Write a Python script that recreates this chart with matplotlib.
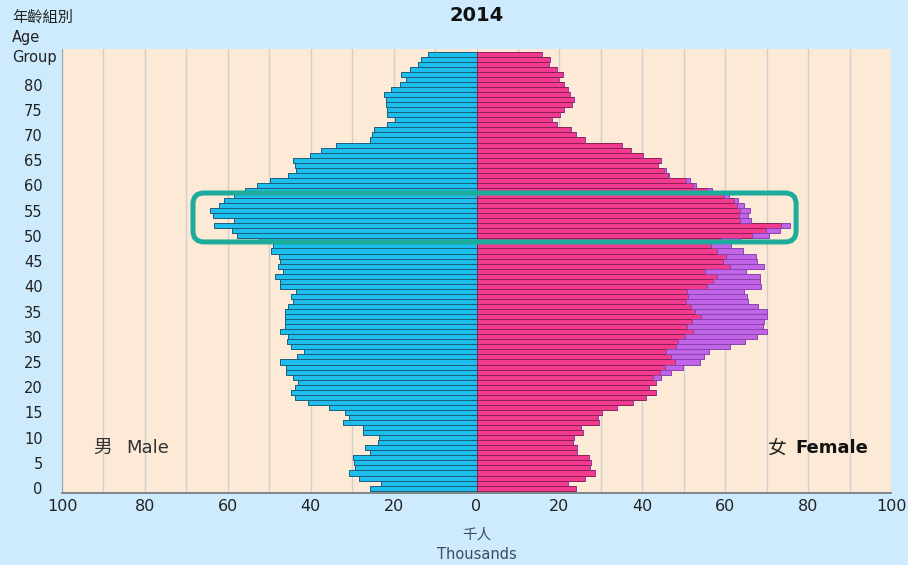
import numpy as np
import matplotlib
matplotlib.use("Agg")
import matplotlib.pyplot as plt
from matplotlib.patches import FancyBboxPatch
from matplotlib.transforms import IdentityTransform

plt.rcParams['font.family'] = ['DejaVu Sans', 'Noto Sans CJK TC']

# single years of age 0..86, thousands of persons
ages = np.arange(0, 87)
male = [25.8, 23.1, 28.3, 30.8, 29.3, 29.5, 29.7, 25.7, 26.8, 23.7,
        23.6, 27.3, 27.3, 32.3, 30.7, 31.8, 35.7, 40.7, 43.8, 44.7,
        43.8, 43.0, 44.2, 45.9, 45.9, 47.4, 43.3, 41.7, 44.8, 45.8,
        45.6, 47.3, 46.2, 46.2, 46.2, 46.1, 45.4, 44.2, 44.7, 43.6,
        47.4, 47.4, 48.6, 46.6, 47.8, 47.5, 47.6, 49.6, 49.2, 52.5,
        57.9, 59.1, 63.4, 58.6, 63.6, 64.4, 62.2, 61.0, 58.6, 55.9,
        53.0, 49.8, 45.4, 43.6, 43.8, 44.3, 40.2, 37.5, 34.0, 25.6,
        25.1, 24.7, 21.6, 19.6, 21.6, 21.7, 21.8, 21.8, 22.2, 20.7,
        18.4, 16.9, 18.1, 16.1, 14.0, 13.4, 11.7]
female = [24.0, 22.0, 26.2, 28.6, 27.4, 27.6, 27.2, 24.2, 24.3, 23.2,
          23.6, 25.7, 25.3, 29.6, 29.3, 30.3, 34.0, 37.7, 41.0, 43.2,
          41.6, 43.2, 42.5, 44.2, 45.4, 48.0, 46.8, 45.6, 48.1, 48.6,
          50.4, 52.2, 50.9, 52.0, 54.2, 52.8, 51.7, 50.5, 51.0, 50.9,
          55.7, 57.1, 57.9, 55.2, 61.1, 59.5, 60.2, 58.0, 56.6, 59.0,
          66.5, 69.9, 73.4, 63.5, 63.3, 63.5, 62.8, 62.0, 59.8, 55.7,
          52.2, 50.5, 46.2, 45.2, 43.8, 44.4, 40.2, 37.2, 35.0, 26.2,
          24.0, 22.7, 19.3, 18.3, 20.2, 21.0, 23.0, 23.4, 22.6, 22.0,
          21.2, 20.0, 20.8, 19.4, 17.4, 17.8, 15.7]
# foreign domestic helpers (purple part on the female side)
female_fdh = [0, 0, 0, 0, 0, 0, 0, 0, 0, 0,
              0, 0, 0, 0, 0, 0, 0, 0, 0, 0,
              0, 0.2, 2.1, 2.8, 4.4, 5.9, 8.2, 10.6, 13.0, 16.1,
              17.2, 17.8, 18.3, 17.3, 15.8, 17.4, 16.3, 15.1, 14.3, 13.6,
              12.9, 11.3, 10.4, 9.8, 8.2, 8.2, 7.3, 6.4, 4.8, 4.5,
              4.0, 3.4, 2.2, 2.7, 2.2, 2.4, 1.7, 1.2, 1.0, 1.0,
              0.8, 0.9, 0.3, 0.6, 0, 0, 0, 0, 0, 0,
              0, 0, 0, 0, 0, 0, 0, 0, 0, 0,
              0, 0, 0, 0, 0, 0, 0]
xticks = [-100, -80, -60, -40, -20, 0, 20, 40, 60, 80, 100]
xtick_labels = ['100', '80', '60', '40', '20', '0', '20', '40', '60', '80', '100']
yticks = list(range(0, 81, 5))
highlight_x = (-68.4, 77.1)
highlight_age = (48.8, 58.5)

fig = plt.figure(figsize=(9.08, 5.65), dpi=100, facecolor='#cdebfd')
ax = fig.add_axes([0.0683, 0.1274, 0.913, 0.7864])
ax.set_facecolor('#fdead6')

ax.barh(ages, -np.array(male), height=1.0, color='#1bbeec',
        edgecolor='#1c5d78', linewidth=0.7, zorder=3)
ax.barh(ages, female, height=1.0, color='#f23a8e',
        edgecolor='#8c1f55', linewidth=0.7, zorder=3)
ax.barh(ages, female_fdh, left=female, height=1.0, color='#c264e8',
        edgecolor='#8a44ad', linewidth=0.7, zorder=3)

ax.set_xlim(-100, 100)
ax.set_ylim(-0.97, 87.1)
ax.set_xticks(xticks)
ax.set_xticklabels(xtick_labels, fontsize=11.5, color='#222222')
ax.set_xticks(range(-90, 100, 10), minor=True)
ax.set_yticks(yticks)
ax.set_yticklabels([str(v) for v in yticks], fontsize=10.5, color='#222222')
ax.tick_params(axis='y', length=0, pad=14)
ax.tick_params(axis='x', which='both', length=0, pad=4)
ax.grid(axis='x', which='both', color='#cfcfcf', linewidth=1.0, zorder=0)
ax.set_axisbelow(True)
for s in ['top', 'right']:
    ax.spines[s].set_visible(False)
ax.spines['left'].set_color('#9aa5ad')
ax.spines['bottom'].set_color('#6a7680')
ax.spines['bottom'].set_linewidth(1.2)

# rounded highlight box around the 50-57 cohort
fig.canvas.draw()
(x0, y0) = ax.transData.transform((highlight_x[0], highlight_age[0]))
(x1, y1) = ax.transData.transform((highlight_x[1], highlight_age[1]))
box = FancyBboxPatch((x0, y0), x1 - x0, y1 - y0,
                     boxstyle='round,pad=0,rounding_size=11',
                     transform=IdentityTransform(), fill=False,
                     edgecolor='#1dab9b', linewidth=3.6, zorder=10)
fig.add_artist(box)

fig.text(0.5253, 0.972, '2014', ha='center', va='center',
         fontsize=14, fontweight='bold', color='#111111')
fig.text(0.013, 0.970, '年齡組別', ha='left', va='center', fontsize=11,
         color='#222222', family=['Noto Sans CJK TC', 'DejaVu Sans'])
fig.text(0.013, 0.934, 'Age', ha='left', va='center', fontsize=10.5, color='#222222')
fig.text(0.013, 0.899, 'Group', ha='left', va='center', fontsize=10.5, color='#222222')

ax.text(-92.5, 8.0, '男', ha='left', va='center', fontsize=13.5,
        color='#333333', family=['Noto Sans CJK TC', 'DejaVu Sans'])
ax.text(-84.5, 8.0, 'Male', ha='left', va='center', fontsize=13,
        color='#333333')
ax.text(94.5, 8.0, 'Female', ha='right', va='center', fontsize=13,
        fontweight='bold', color='#111111')
ax.text(70.2, 8.0, '女', ha='left', va='center', fontsize=13.5,
        color='#222222', family=['Noto Sans CJK TC', 'DejaVu Sans'])

fig.text(0.5253, 0.053, '千人', ha='center', va='center', fontsize=10.5,
         color='#3c4a66', family=['Noto Sans CJK TC', 'DejaVu Sans'])
fig.text(0.5253, 0.019, 'Thousands', ha='center', va='center',
         fontsize=10.5, color='#3c4a66')

fig.savefig('out.png', dpi=100, facecolor=fig.get_facecolor())
